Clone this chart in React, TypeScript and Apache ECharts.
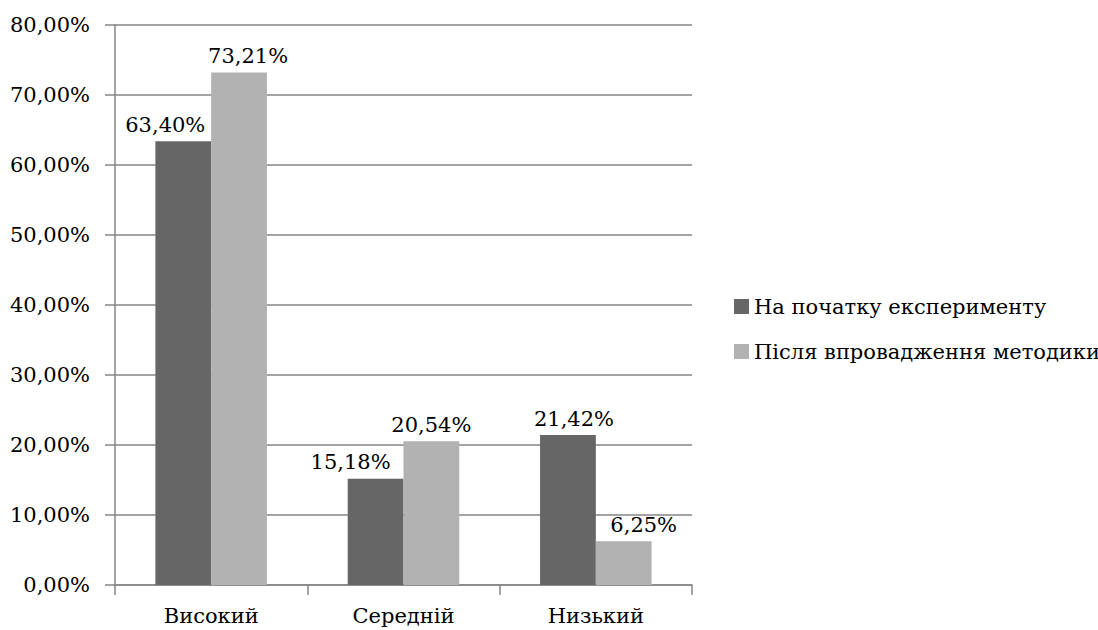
import React, { useEffect, useRef } from "react";
import * as echarts from "echarts";

const categories = ["Високий", "Середній", "Низький"];
const seriesNames = ["На початку експерименту", "Після впровадження методики"];
const beforeValues = [63.4, 15.18, 21.42];
const afterValues = [73.21, 20.54, 6.25];
const yTicks = { min: 0, max: 80, interval: 10 };

const beforeLabelOffsets = [-18, -25, 6];
const afterLabelOffsets = [9, 0, 20];

const FONT = "DejaVu Serif";
const FS = 21;
const fmt = (v: number) => v.toFixed(2).replace(".", ",") + "%";

export default function App() {
  const ref = useRef<HTMLDivElement>(null);
  useEffect(() => {
    if (!ref.current) return;
    const chart = echarts.init(ref.current, null, { renderer: "svg" });
    const mk = (vals: number[], offs: number[]) =>
      vals.map((v, i) => ({ value: v, label: { offset: [offs[i], 0] } }));
    const lbl = {
      show: true,
      position: "top",
      distance: 6,
      fontFamily: FONT,
      fontSize: FS,
      color: "#000",
      formatter: (p: any) => fmt(p.value),
    };
    chart.setOption({
      animation: false,
      backgroundColor: "#ffffff",
      grid: { left: 115, right: 406, top: 25, bottom: 45, containLabel: false, outerBoundsMode: "none" },
      legend: {
        orient: "vertical",
        left: 729,
        top: 291,
        itemWidth: 15,
        itemHeight: 15,
        itemGap: 24,
        icon: "rect",
        textStyle: { fontFamily: FONT, fontSize: FS, color: "#000" },
        data: seriesNames,
      },
      xAxis: {
        type: "category",
        data: categories,
        axisLine: { lineStyle: { color: "#868686", width: 1.5 } },
        axisTick: { show: true, length: 10, lineStyle: { color: "#868686", width: 1.5 } },
        axisLabel: { fontFamily: FONT, fontSize: FS, color: "#000", margin: 20 },
      },
      yAxis: {
        type: "value",
        min: yTicks.min,
        max: yTicks.max,
        interval: yTicks.interval,
        axisLine: { show: true, lineStyle: { color: "#868686", width: 1.5 } },
        axisTick: { show: true, length: 10, lineStyle: { color: "#868686", width: 1.5 } },
        splitLine: { show: true, lineStyle: { color: "#868686", width: 1.5 } },
        axisLabel: { fontFamily: FONT, fontSize: FS, color: "#000", margin: 25, formatter: fmt },
      },
      series: [
        {
          name: seriesNames[0],
          type: "bar",
          data: mk(beforeValues, beforeLabelOffsets),
          barGap: "0%",
          barCategoryGap: "42%",
          itemStyle: { color: "#666666" },
          label: lbl,
        },
        {
          name: seriesNames[1],
          type: "bar",
          data: mk(afterValues, afterLabelOffsets),
          barGap: "0%",
          barCategoryGap: "42%",
          itemStyle: { color: "#b2b2b2" },
          label: lbl,
        },
      ],
    });
    return () => chart.dispose();
  }, []);
  return (
    <div
      ref={ref}
      style={{ position: "fixed", left: 0, top: 0, width: 1098, height: 630, background: "#fff" }}
    />
  );
}
